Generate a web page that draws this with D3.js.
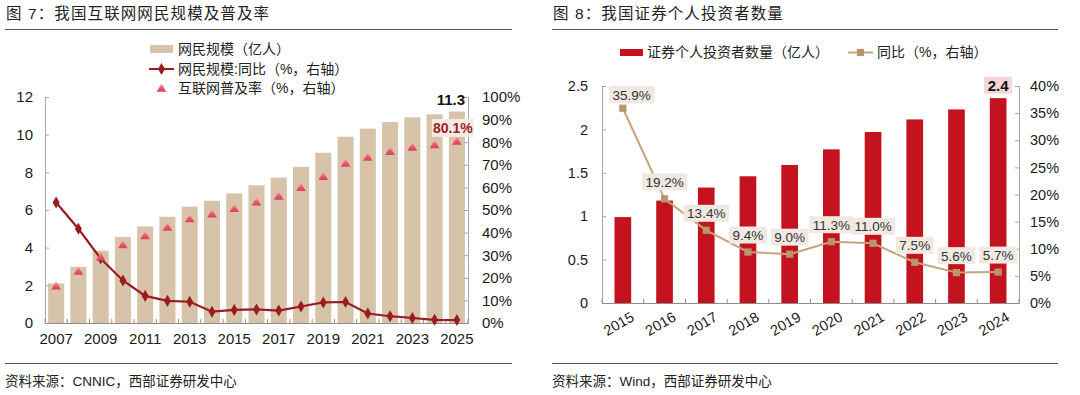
<!DOCTYPE html>
<html><head><meta charset="utf-8">
<script src="https://cdn.jsdelivr.net/npm/d3@7"></script>
<style>
body{margin:0;background:#fff;}
svg{display:block;font-family:"Liberation Sans","Noto Sans CJK SC",sans-serif;}
</style></head>
<body><svg id="c" width="1080" height="395"></svg>
<script>
// ---------- Data: left chart ----------
const yearsL = ["2007","2008","2009","2010","2011","2012","2013","2014","2015","2016","2017","2018","2019","2020","2021","2022","2023","2024","2025"];
const netizens = [2.10,2.98,3.84,4.57,5.13,5.64,6.18,6.49,6.88,7.31,7.72,8.29,9.04,9.89,10.32,10.67,10.92,11.08,11.23];
const netizenGrowth = [53.3,41.7,28.5,18.8,12.0,9.8,9.4,5.0,5.8,6.0,5.5,7.3,9.1,9.3,4.2,3.0,2.2,1.4,1.3];
const penetration = [16.0,22.6,28.9,34.3,38.3,42.1,45.8,47.9,50.3,53.2,55.8,59.6,64.5,70.4,73.0,75.6,77.5,78.6,80.1];
const leftTicks = [0,2,4,6,8,10,12];
const rightTicksL = [0,10,20,30,40,50,60,70,80,90,100];
const lastNetizenLabel = "11.3";
const lastPenLabel = "80.1%";
const legendL = ["网民规模（亿人）","网民规模:同比（%，右轴）","互联网普及率（%，右轴）"];
const titleL = "图 7：我国互联网网民规模及普及率";
const sourceL = "资料来源：CNNIC，西部证券研发中心";

// ---------- Data: right chart ----------
const yearsR = ["2015","2016","2017","2018","2019","2020","2021","2022","2023","2024"];
const investors = [0.99,1.18,1.33,1.46,1.59,1.77,1.97,2.115,2.23,2.36];
const investorGrowth = [35.9,19.2,13.4,9.4,9.0,11.3,11.0,7.5,5.6,5.7];
const leftTicksR = [0,0.5,1,1.5,2,2.5];
const rightTicksR = [0,5,10,15,20,25,30,35,40];
const lastInvestorLabel = "2.4";
const legendR = ["证券个人投资者数量（亿人）","同比（%，右轴）"];
const titleR = "图 8：我国证券个人投资者数量";
const sourceR = "资料来源：Wind，西部证券研发中心";

const svg = d3.select("#c");
const defs = svg.append("defs");
const grad = defs.append("linearGradient").attr("id","triG").attr("x1",0).attr("y1",0).attr("x2",0).attr("y2",1);
grad.append("stop").attr("offset","0%").attr("stop-color","#f7b3bd");
grad.append("stop").attr("offset","55%").attr("stop-color","#e8566d");
grad.append("stop").attr("offset","100%").attr("stop-color","#d9425a");

const TXT = "#1a1a1a";

// ---------- Headers and footers ----------
function frame(x0, x1, title, source){
  svg.append("text").attr("x", x0+1).attr("y", 19).attr("font-size", 15.5).attr("letter-spacing", 1.1)
    .attr("fill", "#222").text(title);
  svg.append("line").attr("x1", x0).attr("x2", x1).attr("y1", 29.5).attr("y2", 29.5).attr("stroke", "#555").attr("stroke-width", 1);
  svg.append("line").attr("x1", x0).attr("x2", x1).attr("y1", 363.5).attr("y2", 363.5).attr("stroke", "#555").attr("stroke-width", 1);
  svg.append("text").attr("x", x0).attr("y", 386).attr("font-size", 13.5).attr("fill", "#222").text(source);
}
frame(5, 512, titleL, sourceL);
frame(552, 1058, titleR, sourceR);

// ---------- Left chart ----------
{
  const x = d3.scaleBand().domain(yearsL).range([45, 468]).paddingInner(0.28).paddingOuter(0.14);
  const y = d3.scaleLinear().domain([0, 12]).range([323, 97]);
  const y2 = d3.scaleLinear().domain([0, 100]).range([323, 97]);
  const g = svg.append("g");

  // bars
  g.selectAll("rect.bar").data(netizens).join("rect").attr("class","bar")
    .attr("x", (d,i)=>x(yearsL[i])).attr("width", x.bandwidth())
    .attr("y", d=>y(d)).attr("height", d=>y(0)-y(d)).attr("fill", "#d6c3a9");

  // axes
  const ax = g.append("g").attr("transform","translate(45,0)")
    .call(d3.axisLeft(y).tickValues(leftTicks).tickSize(-4).tickPadding(12).tickFormat(d3.format("d")));
  ax.select(".domain").attr("stroke","#a6a6a6");
  ax.selectAll(".tick line").attr("stroke","#a6a6a6");
  ax.selectAll("text").attr("font-size",15).attr("fill",TXT).attr("font-family",null);

  const ax2 = g.append("g").attr("transform","translate(468,0)")
    .call(d3.axisRight(y2).tickValues(rightTicksL).tickSize(-4).tickPadding(14).tickFormat(d=>d+"%"));
  ax2.select(".domain").attr("stroke","#a6a6a6");
  ax2.selectAll(".tick line").attr("stroke","#a6a6a6");
  ax2.selectAll("text").attr("font-size",15).attr("fill",TXT).attr("font-family",null);

  // bottom axis
  const axb = g.append("g").attr("transform","translate(0,323)")
    .call(d3.axisBottom(x).tickValues(yearsL.filter((d,i)=>i%2===0)).tickSize(0).tickPadding(10));
  axb.select(".domain").attr("stroke","#8c8c8c");
  axb.selectAll("text").attr("font-size",15).attr("fill",TXT).attr("font-family",null);
  const bnd = yearsL.map(d=>x(d)-x.step()*x.paddingInner()/2).concat([x(yearsL[yearsL.length-1])+x.bandwidth()+x.step()*x.paddingInner()/2]);
  g.selectAll("line.bt").data(bnd).join("line").attr("class","bt")
    .attr("x1",d=>d).attr("x2",d=>d).attr("y1",323).attr("y2",319).attr("stroke","#8c8c8c");

  // growth line
  const cx = i => x(yearsL[i]) + x.bandwidth()/2;
  g.append("path").datum(netizenGrowth)
    .attr("d", d3.line().x((d,i)=>cx(i)).y(d=>y2(d)))
    .attr("fill","none").attr("stroke","#9b1c1f").attr("stroke-width",2.2);
  g.selectAll("path.dm").data(netizenGrowth).join("path").attr("class","dm")
    .attr("d", d3.symbol(d3.symbolDiamond, 42))
    .attr("transform",(d,i)=>`translate(${cx(i)},${y2(d)})`).attr("fill","#9b1c1f");

  // penetration triangles
  g.selectAll("path.tr").data(penetration).join("path").attr("class","tr")
    .attr("d", d3.symbol(d3.symbolTriangle, 40))
    .attr("transform",(d,i)=>`translate(${cx(i)},${y2(d)})`).attr("fill","url(#triG)");

  // labels
  const li = yearsL.length-1;
  g.append("text").attr("x", cx(li)-6).attr("y", y(12)+8).attr("text-anchor","middle")
    .attr("font-size",15).attr("font-weight","bold").attr("fill","#111").text(lastNetizenLabel);
  const px = cx(li)-4, py = y2(penetration[li]) - 14;
  g.append("rect").attr("x", px-21).attr("y", py-9).attr("width",42).attr("height",18).attr("fill","#f1ebe4");
  g.append("text").attr("x", px).attr("y", py+5).attr("text-anchor","middle")
    .attr("font-size",14).attr("font-weight","bold").attr("fill","#a01c22").text(lastPenLabel);

  // legend
  const lg = g.append("g");
  lg.append("rect").attr("x",150).attr("y",45).attr("width",23).attr("height",8).attr("fill","#d6c3a9");
  lg.append("line").attr("x1",149).attr("x2",174).attr("y1",69).attr("y2",69).attr("stroke","#9b1c1f").attr("stroke-width",2);
  lg.append("path").attr("d", d3.symbol(d3.symbolDiamond, 42)).attr("transform","translate(161.5,69)").attr("fill","#9b1c1f");
  lg.append("path").attr("d", d3.symbol(d3.symbolTriangle, 40)).attr("transform","translate(161.5,89)").attr("fill","url(#triG)");
  lg.selectAll("text").data(legendL).join("text").attr("x",178).attr("y",(d,i)=>54+i*19.5)
    .attr("font-size",14).attr("fill","#222").text(d=>d);
}

// ---------- Right chart ----------
{
  const x = d3.scaleBand().domain(yearsR).range([602, 1019]).paddingInner(0.6).paddingOuter(0.3);
  const y = d3.scaleLinear().domain([0, 2.5]).range([303, 86]);
  const y2 = d3.scaleLinear().domain([0, 40]).range([303, 86]);
  const g = svg.append("g");

  g.selectAll("rect.bar").data(investors).join("rect").attr("class","bar")
    .attr("x",(d,i)=>x(yearsR[i])).attr("width",x.bandwidth())
    .attr("y",d=>y(d)).attr("height",d=>y(0)-y(d)).attr("fill","#c5121f");

  const ax = g.append("g").attr("transform","translate(602,0)")
    .call(d3.axisLeft(y).tickValues(leftTicksR).tickSize(-4).tickPadding(14).tickFormat(d=>String(d)));
  ax.select(".domain").attr("stroke","#a6a6a6");
  ax.selectAll(".tick line").attr("stroke","#a6a6a6");
  ax.selectAll("text").attr("font-size",14.5).attr("fill",TXT).attr("font-family",null);

  const ax2 = g.append("g").attr("transform","translate(1019,0)")
    .call(d3.axisRight(y2).tickValues(rightTicksR).tickSize(-4).tickPadding(11).tickFormat(d=>d+"%"));
  ax2.select(".domain").attr("stroke","#a6a6a6");
  ax2.selectAll(".tick line").attr("stroke","#a6a6a6");
  ax2.selectAll("text").attr("font-size",14.5).attr("fill",TXT).attr("font-family",null);

  const axb = g.append("g").attr("transform","translate(0,303)")
    .call(d3.axisBottom(x).tickSize(0).tickFormat(d=>d));
  axb.select(".domain").attr("stroke","#8c8c8c");
  axb.selectAll("text").attr("font-size",14.5).attr("fill",TXT).attr("font-family",null)
    .attr("text-anchor","end").attr("dy",null).attr("y",0)
    .attr("transform",`translate(${x.bandwidth()/2+4},17) rotate(-30)`);
  const bnd = yearsR.map(d=>x(d)-x.step()*x.paddingInner()/2).concat([x(yearsR[yearsR.length-1])+x.bandwidth()+x.step()*x.paddingInner()/2]);
  g.selectAll("line.bt").data(bnd).join("line").attr("class","bt")
    .attr("x1",d=>d).attr("x2",d=>d).attr("y1",303).attr("y2",299).attr("stroke","#8c8c8c");

  const cx = i => x(yearsR[i]) + x.bandwidth()/2;
  g.append("path").datum(investorGrowth)
    .attr("d", d3.line().x((d,i)=>cx(i)).y(d=>y2(d)))
    .attr("fill","none").attr("stroke","#c4a47c").attr("stroke-width",2);
  g.selectAll("path.sq").data(investorGrowth).join("path").attr("class","sq")
    .attr("d", d3.symbol(d3.symbolSquare, 52))
    .attr("transform",(d,i)=>`translate(${cx(i)},${y2(d)})`).attr("fill","#b9966b");

  // growth labels
  const lbl = g.selectAll("g.lb").data(investorGrowth).join("g").attr("class","lb");
  lbl.each(function(d,i){
    const s = d3.select(this);
    const t = s.append("text").attr("font-size",13.5).attr("fill","#333").attr("text-anchor","middle").text(d.toFixed(1)+"%");
    const w = t.node().getComputedTextLength() + 7;
    let lx = cx(i), ly = y2(d) - 17;
    if (ly - 8.5 < 86) ly = 86 + 8.5;
    if (lx - w/2 < 609) lx = 609 + w/2;
    s.insert("rect","text").attr("x",lx-w/2).attr("y",ly-8.5).attr("width",w).attr("height",17).attr("fill","#efe9e1");
    t.attr("x",lx).attr("y",ly+5);
  });

  // last bar label
  const li = yearsR.length-1;
  const bx = cx(li), by = y(investors[li]) - 13;
  g.append("rect").attr("x",bx-14).attr("y",by-8.5).attr("width",28).attr("height",17).attr("fill","#f6d5d9");
  g.append("text").attr("x",bx).attr("y",by+5.5).attr("text-anchor","middle")
    .attr("font-size",15).attr("font-weight","bold").attr("fill","#111").text(lastInvestorLabel);

  // legend
  const lg = g.append("g");
  lg.append("rect").attr("x",620).attr("y",49).attr("width",23).attr("height",7).attr("fill","#c5121f");
  lg.append("text").attr("x",647).attr("y",57).attr("font-size",14).attr("fill","#222").text(legendR[0]);
  lg.append("line").attr("x1",848).attr("x2",873).attr("y1",52.5).attr("y2",52.5).attr("stroke","#c4a47c").attr("stroke-width",2);
  lg.append("path").attr("d", d3.symbol(d3.symbolSquare, 52)).attr("transform","translate(860.5,52.5)").attr("fill","#b9966b");
  lg.append("text").attr("x",877).attr("y",57).attr("font-size",14).attr("fill","#222").text(legendR[1]);
}
</script></body></html>
